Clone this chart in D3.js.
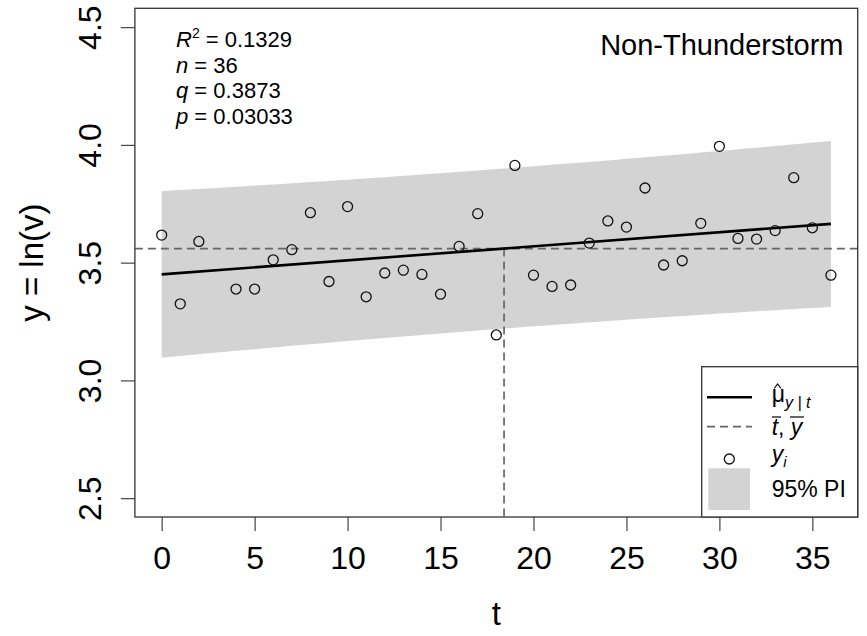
<!DOCTYPE html>
<html>
<head>
<meta charset="utf-8">
<script src="https://cdnjs.cloudflare.com/ajax/libs/d3/7.8.5/d3.min.js"></script>
<style>
  body { margin: 0; background: #fff; }
  text { font-family: "Liberation Sans", Arial, Helvetica, sans-serif; fill: #000; }
</style>
</head>
<body>
<div id="chart"></div>
<script>
const svgWidth = 867;
const svgHeight = 636;

const tVals = [0, 1, 2, 4, 5, 6, 7, 8, 9, 10, 11, 12, 13, 14, 15, 16, 17, 18,
               19, 20, 21, 22, 23, 24, 25, 26, 27, 28, 29, 30, 31, 32, 33, 34, 35, 36];
const yVals = [3.617, 3.325, 3.590, 3.388, 3.388, 3.512, 3.555, 3.712, 3.420, 3.738, 3.355, 3.456,
               3.468, 3.450, 3.366, 3.569, 3.708, 3.193, 3.913, 3.447, 3.399, 3.405, 3.583, 3.677,
               3.651, 3.817, 3.490, 3.508, 3.667, 3.994, 3.603, 3.600, 3.636, 3.861, 3.648, 3.447];

const xTicks = [0, 5, 10, 15, 20, 25, 30, 35];
const yTicks = [2.5, 3.0, 3.5, 4.0, 4.5];

const statLabels = ["R", "n", "q", "p"];
const statValues = ["0.1329", "36", "0.3873", "0.03033"];
const panelTitle = "Non-Thunderstorm";
const tCrit = 2.032; // t(0.975, 34)

// plot region (R style, 4% padding on both axes)
const box = { left: 134.9, right: 857.7, top: 8.3, bottom: 517 };

const x = d3.scaleLinear().domain([-1.44, 37.44]).range([box.left, box.right]);
const y = d3.scaleLinear().domain([2.42, 4.58]).range([box.bottom, box.top]);

const svg = d3.select("#chart")
    .append("svg")
    .attr("width", svgWidth)
    .attr("height", svgHeight);

svg.append("rect").attr("width", svgWidth).attr("height", svgHeight).attr("fill", "#fff");

// least squares fit and prediction interval
const n = tVals.length;
const tBar = d3.mean(tVals);
const yBar = d3.mean(yVals);
const sxx = d3.sum(tVals, t => (t - tBar) ** 2);
const sxy = d3.sum(tVals, (t, i) => (t - tBar) * (yVals[i] - yBar));
const slope = sxy / sxx;
const intercept = yBar - slope * tBar;
const fit = t => intercept + slope * t;
const sse = d3.sum(tVals, (t, i) => (yVals[i] - fit(t)) ** 2);
const s = Math.sqrt(sse / (n - 2));
const half = t => tCrit * s * Math.sqrt(1 + 1 / n + (t - tBar) ** 2 / sxx);

const tGrid = d3.range(0, 36.01, 0.5);
const band = d3.area()
    .x(t => x(t))
    .y0(t => y(fit(t) - half(t)))
    .y1(t => y(fit(t) + half(t)));

svg.append("path")
    .datum(tGrid)
    .attr("d", band)
    .attr("fill", "#d3d3d3");

// mean lines
svg.append("line")
    .attr("x1", box.left).attr("x2", box.right)
    .attr("y1", y(yBar)).attr("y2", y(yBar))
    .attr("stroke", "#666").attr("stroke-width", 1.7)
    .attr("stroke-dasharray", "8,5");

svg.append("line")
    .attr("x1", x(tBar)).attr("x2", x(tBar))
    .attr("y1", y(yBar)).attr("y2", box.bottom)
    .attr("stroke", "#666").attr("stroke-width", 1.7)
    .attr("stroke-dasharray", "8,5");

// fitted line
svg.append("line")
    .attr("x1", x(0)).attr("x2", x(36))
    .attr("y1", y(fit(0))).attr("y2", y(fit(36)))
    .attr("stroke", "#000").attr("stroke-width", 2.6);

// points
svg.append("g")
    .selectAll("circle")
    .data(tVals)
    .enter()
    .append("circle")
    .attr("cx", d => x(d))
    .attr("cy", (d, i) => y(yVals[i]))
    .attr("r", 5)
    .attr("fill", "none")
    .attr("stroke", "#111")
    .attr("stroke-width", 1.3);

// axes
const xAxis = svg.append("g")
    .attr("transform", `translate(0, ${box.bottom})`)
    .call(d3.axisBottom(x).tickValues(xTicks).tickSize(14).tickPadding(15.3));
xAxis.select(".domain").remove();
xAxis.selectAll("line").attr("stroke", "#444").attr("stroke-width", 1.2);
xAxis.selectAll("text").style("font-size", "32px").attr("fill", "#000");

const yAxis = svg.append("g")
    .attr("transform", `translate(${box.left}, 0)`)
    .call(d3.axisLeft(y).tickValues(yTicks).tickSize(14).tickFormat(d3.format(".1f")));
yAxis.select(".domain").remove();
yAxis.selectAll("line").attr("stroke", "#444").attr("stroke-width", 1.2);
yAxis.selectAll("text")
    .attr("x", null).attr("dy", null)
    .attr("text-anchor", "middle")
    .attr("transform", "translate(-34, 0) rotate(-90)")
    .style("font-size", "32px").attr("fill", "#000");

// box
svg.append("rect")
    .attr("x", box.left).attr("y", box.top)
    .attr("width", box.right - box.left).attr("height", box.bottom - box.top)
    .attr("fill", "none").attr("stroke", "#333").attr("stroke-width", 1.3);

// axis titles
svg.append("text")
    .attr("x", (box.left + box.right) / 2).attr("y", 625)
    .attr("text-anchor", "middle")
    .style("font-size", "33px")
    .text("t");

svg.append("text")
    .attr("transform", `translate(43, ${(box.top + box.bottom) / 2}) rotate(-90)`)
    .attr("text-anchor", "middle")
    .style("font-size", "33px")
    .text("y = ln(v)");

// panel title
svg.append("text")
    .attr("x", 843.5).attr("y", 55)
    .attr("text-anchor", "end")
    .style("font-size", "29px")
    .text(panelTitle);

// statistics
const statGroup = svg.append("g").style("font-size", "22px");
statLabels.forEach((lab, i) => {
    const t = statGroup.append("text")
        .attr("x", 176)
        .attr("y", 46.7 + i * 25.8);
    t.append("tspan").style("font-style", "italic").text(lab);
    if (lab === "R") {
        t.append("tspan").attr("dy", -9).style("font-size", "14px").text("2");
        t.append("tspan").attr("dy", 9).text(" = " + statValues[i]);
    } else {
        t.append("tspan").text(" = " + statValues[i]);
    }
});

// legend
const leg = svg.append("g");
leg.append("rect")
    .attr("x", 701.7).attr("y", 366.7)
    .attr("width", box.right - 701.7).attr("height", box.bottom - 366.7)
    .attr("fill", "#fff").attr("stroke", "#333").attr("stroke-width", 1.3);

leg.append("line")
    .attr("x1", 707).attr("x2", 752).attr("y1", 397.3).attr("y2", 397.3)
    .attr("stroke", "#000").attr("stroke-width", 2.6);
leg.append("line")
    .attr("x1", 707).attr("x2", 752).attr("y1", 426.7).attr("y2", 426.7)
    .attr("stroke", "#666").attr("stroke-width", 1.7).attr("stroke-dasharray", "8,5");
leg.append("circle")
    .attr("cx", 729.3).attr("cy", 459).attr("r", 5)
    .attr("fill", "none").attr("stroke", "#111").attr("stroke-width", 1.3);
leg.append("rect")
    .attr("x", 708.3).attr("y", 468.3).attr("width", 41.7).attr("height", 41.7)
    .attr("fill", "#d3d3d3");

const legFont = "23px";
// mu hat with subscript
const muText = leg.append("text").attr("x", 771.7).attr("y", 402).style("font-size", legFont);
muText.append("tspan").text("\u03bc");
muText.append("tspan").attr("dy", 6).style("font-size", "16px").style("font-style", "italic").text("y | t");
leg.append("path")
    .attr("d", "M774.2,388.5 L777.6,384 L781,388.5")
    .attr("fill", "none").attr("stroke", "#000").attr("stroke-width", 1.1);

// t bar, y bar
const tyText = leg.append("text").attr("x", 771.7).attr("y", 435).style("font-size", legFont)
    .style("font-style", "italic");
tyText.append("tspan").text("t");
tyText.append("tspan").style("font-style", "normal").text(", ");
tyText.append("tspan").text("y");
leg.append("line").attr("x1", 772).attr("x2", 781).attr("y1", 417).attr("y2", 417)
    .attr("stroke", "#000").attr("stroke-width", 1.2);
leg.append("line").attr("x1", 790).attr("x2", 804).attr("y1", 417).attr("y2", 417)
    .attr("stroke", "#000").attr("stroke-width", 1.2);

const yiText = leg.append("text").attr("x", 771.7).attr("y", 462).style("font-size", legFont)
    .style("font-style", "italic");
yiText.append("tspan").text("y");
yiText.append("tspan").attr("dy", 5).style("font-size", "15px").text("i");

leg.append("text").attr("x", 771.7).attr("y", 496.7).style("font-size", legFont).text("95% PI");
</script>
</body>
</html>
